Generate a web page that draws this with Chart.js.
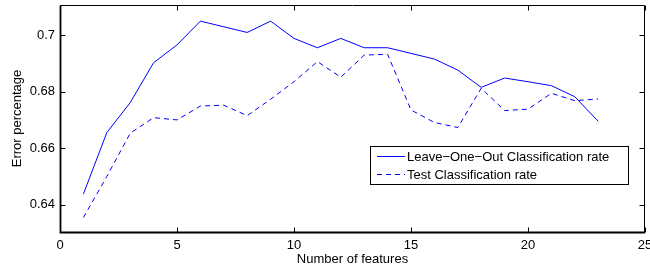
<!DOCTYPE html>
<html>
<head>
<meta charset="utf-8">
<script src="https://cdn.jsdelivr.net/npm/chart.js@4/dist/chart.umd.min.js"></script>
<style>
  html, body { margin: 0; padding: 0; background: #fff; }
  #wrap { width: 650px; height: 269px; }
</style>
</head>
<body>
<div id="wrap"><canvas id="errChart"></canvas></div>
<script>
/* data */
const features = [1, 2, 3, 4, 5, 6, 7, 8, 9, 10, 11, 12, 13, 14, 15, 16, 17, 18, 19, 20, 21, 22, 23];
const looRate = [0.6438, 0.6655, 0.6761, 0.6902, 0.6965, 0.7049, 0.7029, 0.7009, 0.7049, 0.6988, 0.6955, 0.6988,
                 0.6955, 0.6955, 0.6935, 0.6915, 0.6876, 0.6815, 0.6848, 0.6835, 0.6821, 0.6782, 0.6695];
const testRate = [0.6355, 0.6500, 0.6653, 0.6708, 0.6700, 0.6749, 0.6752, 0.6715, 0.6773, 0.6835, 0.6906, 0.6851,
                  0.6929, 0.6932, 0.6735, 0.6691, 0.6673, 0.6812, 0.6733, 0.6738, 0.6794, 0.6768, 0.6774];
const xTicks = [0, 5, 10, 15, 20, 25];
const yTicks = [0.64, 0.66, 0.68, 0.7];
const yTickLabels = ['0.64', '0.66', '0.68', '0.7'];

const FONT = 'Liberation Sans, Arial, Helvetica, sans-serif';

// matlab style box, inward ticks on all four sides, legend inside the axes
const matlabBox = {
    id: 'matlabBox',
    afterDatasetsDraw(chart) {
        const ctx = chart.ctx;
        const a = chart.chartArea;
        const xs = chart.scales.x, ys = chart.scales.y;
        const tl = 5;
        const L = Math.round(a.left) + 0.5, R = Math.round(a.right) - 0.5;
        const T = Math.round(a.top) + 0.5, B = Math.round(a.bottom) + 0.5;
        ctx.save();
        ctx.strokeStyle = '#000';
        // top and right: thin
        ctx.lineWidth = 1;
        ctx.beginPath();
        ctx.moveTo(L, T); ctx.lineTo(R, T); ctx.lineTo(R, B);
        ctx.stroke();
        // left and bottom: heavier
        ctx.lineWidth = 1.8;
        ctx.beginPath();
        ctx.moveTo(L, T); ctx.lineTo(L, B); ctx.lineTo(R + 0.5, B);
        ctx.stroke();

        ctx.lineWidth = 1;
        ctx.beginPath();
        xTicks.forEach(v => {
            const px = Math.round(xs.getPixelForValue(v)) + 0.5;
            ctx.moveTo(px, B); ctx.lineTo(px, B - tl);
            ctx.moveTo(px, T); ctx.lineTo(px, T + tl);
        });
        yTicks.forEach(v => {
            const py = Math.round(ys.getPixelForValue(v)) + 0.5;
            ctx.moveTo(L, py); ctx.lineTo(L + tl, py);
            ctx.moveTo(R, py); ctx.lineTo(R - tl, py);
        });
        ctx.stroke();

        // legend
        const lx = 370, ly = 146, lw = 258, lh = 38;
        ctx.fillStyle = '#fff';
        ctx.fillRect(lx, ly, lw, lh);
        ctx.strokeRect(lx + 0.5, ly + 0.5, lw, lh);
        ctx.font = '13px ' + FONT;
        ctx.textBaseline = 'middle';
        chart.data.datasets.forEach((ds, i) => {
            const yy = Math.round(ly + 10 + i * 17.5);
            ctx.strokeStyle = ds.borderColor;
            ctx.setLineDash(ds.borderDash || []);
            ctx.beginPath();
            ctx.moveTo(lx + 7, yy + 0.5);
            ctx.lineTo(lx + 35, yy + 0.5);
            ctx.stroke();
            ctx.setLineDash([]);
            ctx.fillStyle = '#000';
            ctx.fillText(ds.label, lx + 37, yy + 1);
        });
        ctx.restore();
    }
};

const toPts = arr => features.map((f, i) => ({ x: f, y: arr[i] }));

// stop chart.js from reserving room for label overhang
const noOverhang = axis => {
    axis.paddingTop = 0; axis.paddingBottom = 0;
    axis.paddingLeft = 0; axis.paddingRight = 0;
};

new Chart(document.getElementById('errChart'), {
    type: 'line',
    data: {
        datasets: [{
            label: 'Leave\u2212One\u2212Out Classification rate',
            data: toPts(looRate),
            borderColor: '#0000ff',
            borderWidth: 1,
            pointRadius: 0,
            tension: 0
        }, {
            label: 'Test Classification rate',
            data: toPts(testRate),
            borderColor: '#0000ff',
            borderWidth: 1,
            borderDash: [5, 4],
            pointRadius: 0,
            tension: 0
        }]
    },
    options: {
        responsive: true,
        maintainAspectRatio: false,
        animation: false,
        layout: { padding: { top: 5, right: 5, left: 0, bottom: 0 } },
        plugins: { legend: { display: false }, tooltip: { enabled: false } },
        scales: {
            x: {
                type: 'linear',
                min: 0, max: 25,
                afterBuildTicks: axis => { axis.ticks = xTicks.map(v => ({ value: v })); },
                afterFit: axis => { axis.height = 37; noOverhang(axis); },
                grid: { display: false, drawTicks: false },
                border: { display: false },
                ticks: { color: '#000', padding: 6, maxRotation: 0, font: { family: FONT, size: 13 } },
                title: {
                    display: true, text: 'Number of features', color: '#000',
                    padding: { top: 0, bottom: 2 }, font: { family: FONT, size: 13 }
                }
            },
            y: {
                min: 0.6304, max: 0.7106,
                afterBuildTicks: axis => { axis.ticks = yTicks.map(v => ({ value: v })); },
                afterFit: axis => { axis.width = 60; noOverhang(axis); },
                grid: { display: false, drawTicks: false },
                border: { display: false },
                ticks: {
                    color: '#000', padding: 5, font: { family: FONT, size: 13 },
                    callback: v => yTickLabels[yTicks.indexOf(v)]
                },
                title: {
                    display: true, text: 'Error percentage', color: '#000',
                    padding: { top: 10, bottom: 0 }, font: { family: FONT, size: 13 }
                }
            }
        }
    },
    plugins: [matlabBox]
});
</script>
</body>
</html>
